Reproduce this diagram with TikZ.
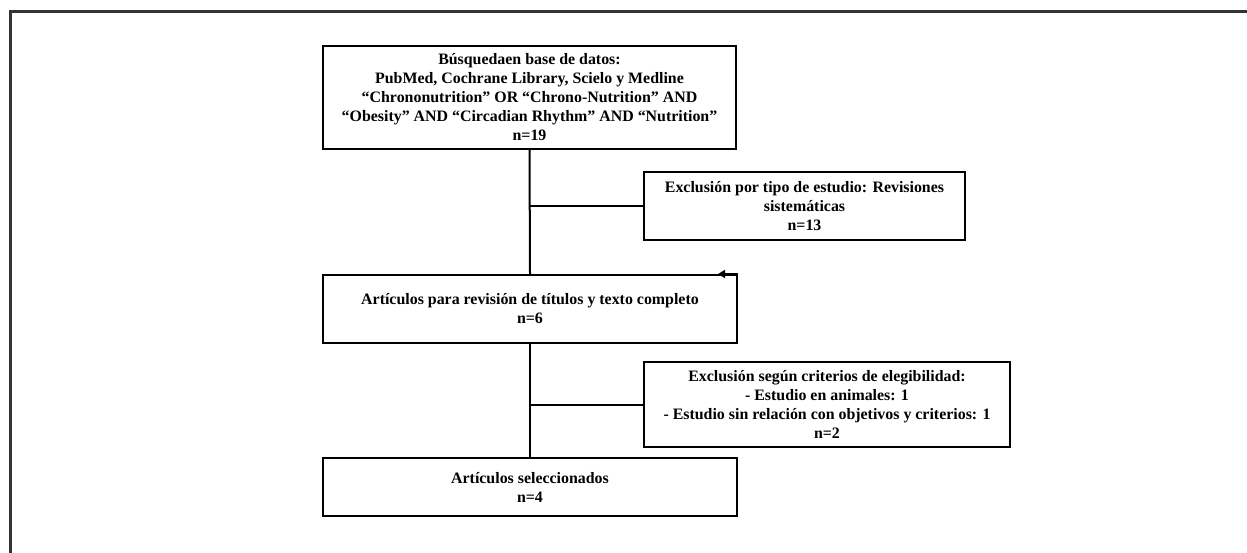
\documentclass[tikz,border=0pt]{standalone}
\usepackage{fontspec}
\setmainfont{Liberation Serif}
\usetikzlibrary{arrows.meta}
\begin{document}
\begin{tikzpicture}[x=1pt,y=-1pt,
  box/.style={draw=black, line width=2pt, rectangle, align=center, inner sep=0pt,
    font=\bfseries\fontsize{15.9}{19}\selectfont},
  link/.style={draw=black, line width=2pt},
  frame/.style={draw=black!80, line width=3pt}]
\useasboundingbox (0,0) rectangle (1247,553);
\coordinate (ftl) at (10.5,11.5);
\coordinate (ftr) at (1247,11.5);
\coordinate (fbl) at (10.5,553);
\draw[frame] (ftr) -- (ftl) -- (fbl);

\node[box, minimum width=413pt, minimum height=103pt] (b1) at (529.5,97.5)
  {Búsquedaen base de datos:\\PubMed, Cochrane Library, Scielo y Medline\\“Chrononutrition” OR “Chrono-Nutrition” AND\\“Obesity” AND “Circadian Rhythm” AND “Nutrition”\\n=19};
\node[box, minimum width=321pt, minimum height=68pt] (e1) at (804.5,206)
  {Exclusión por tipo de estudio: Revisiones\\sistemáticas\\n=13};
\node[box, minimum width=414pt, minimum height=68pt] (b2) at (530,309)
  {Artículos para revisión de títulos y texto completo\\n=6};
\node[box, minimum width=366pt, minimum height=85pt] (e2) at (827,404.5)
  {Exclusión según criterios de elegibilidad:\\- Estudio en animales: 1\\- Estudio sin relación con objetivos y criterios: 1\\n=2};
\node[box, minimum width=414pt, minimum height=58pt] (b3) at (530,487)
  {Artículos seleccionados\\n=4};

\draw[link] (b1.south) -- (b2.north);
\draw[link] (b1.south |- e1.west) -- (e1.west);
\draw[link] (b2.south) -- (b3.north);
\draw[link] (b2.south |- e2.west) -- (e2.west);
\draw[link, -{Triangle[length=7pt,width=8pt]}] (b2.north east) -- ++(-20,0);
\end{tikzpicture}
\end{document}
